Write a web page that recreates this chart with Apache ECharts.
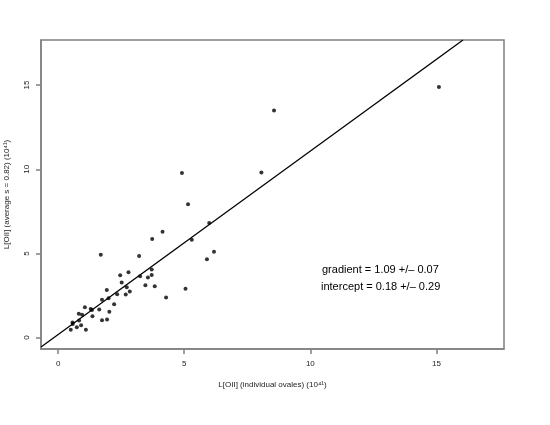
<!DOCTYPE html>
<html>
<head>
<meta charset="utf-8">
<script src="https://cdn.jsdelivr.net/npm/echarts@6/dist/echarts.min.js"></script>
<style>html,body{margin:0;padding:0;background:#fff}#c{width:550px;height:425px}</style>
</head>
<body>
<div id="c"></div>
<script>
// data
var individualL = [4.91,8.06,5.15,5.99,4.14,3.73,5.30,6.18,5.90,1.69,3.21,2.79,2.46,3.71,3.71,3.25,3.56,2.52,3.83,3.46,5.05,4.28,2.72,2.84,2.68,2.34,1.93,2.22,1.74,2.00,1.63,2.03,1.06,1.29,1.34,1.36,0.82,0.95,0.83,1.74,1.94,0.57,0.58,0.91,0.74,0.50,1.10,8.56,15.10];
var averageL    = [9.78,9.80,7.92,6.80,6.29,5.85,5.81,5.10,4.66,4.92,4.84,3.88,3.70,4.04,3.72,3.64,3.57,3.27,3.05,3.11,2.90,2.38,2.99,2.73,2.56,2.57,2.83,1.98,2.24,2.34,1.66,1.53,1.80,1.70,1.64,1.27,1.41,1.35,1.01,1.03,1.07,0.89,0.80,0.73,0.61,0.46,0.46,13.49,14.88];
var xTicks = [0, 5, 10, 15];
var yTicks = [0, 5, 10, 15];
var fitGradient = 1.09, fitIntercept = 0.18;
var axisRange = [-0.68, 17.68];

var pts = individualL.map(function(x, i){ return [x, averageL[i]]; });
var x0 = axisRange[0], x1 = (axisRange[1] - fitIntercept) / fitGradient;
var fitLine = [[x0, fitGradient * x0 + fitIntercept], [x1, fitGradient * x1 + fitIntercept]];

var chart = echarts.init(document.getElementById('c'), null, {renderer: 'canvas'});
var font = 'Liberation Sans, Arial, Helvetica, sans-serif';
var gray = '#808080';
chart.setOption({
  animation: false,
  backgroundColor: '#fff',
  grid: {left: 41, right: 46, top: 40, bottom: 76, containLabel: false, outerBoundsMode: 'none',
         show: true, borderColor: gray, borderWidth: 1.5, backgroundColor: 'transparent'},
  xAxis: {
    type: 'value', min: axisRange[0], max: axisRange[1],
    name: 'L[OII] (individual ovales) (10⁴¹)', nameLocation: 'middle', nameGap: 32,
    nameTextStyle: {fontFamily: font, fontSize: 8, color: '#222'},
    axisLine: {show: true, onZero: false, lineStyle: {color: gray, width: 1.5}}, splitLine: {show: false},
    axisTick: {show: true, inside: false, length: 5, lineStyle: {color: gray, width: 1.5}, customValues: xTicks},
    axisLabel: {customValues: xTicks, margin: 11, fontFamily: font, fontSize: 8, color: '#222'}
  },
  yAxis: {
    type: 'value', min: axisRange[0], max: axisRange[1],
    name: 'L[OII] (average s = 0.82) (10⁴¹)', nameLocation: 'middle', nameGap: 30,
    nameTextStyle: {fontFamily: font, fontSize: 8, color: '#222'},
    axisLine: {show: true, onZero: false, lineStyle: {color: gray, width: 1.5}}, splitLine: {show: false},
    axisTick: {show: true, inside: false, length: 5, lineStyle: {color: gray, width: 1.5}, customValues: yTicks},
    axisLabel: {customValues: yTicks, rotate: 90, margin: 10, fontFamily: font, fontSize: 8, color: '#222'}
  },
  series: [
    {type: 'line', data: fitLine, showSymbol: false, symbol: 'none', clip: true,
     lineStyle: {color: '#000', width: 1.3}},
    {type: 'scatter', data: pts, symbol: 'circle', symbolSize: 4, itemStyle: {color: '#000'}}
  ],
  graphic: [
    {type: 'text', left: 322, top: 264, style: {text: 'gradient = 1.09 +/\u2013 0.07', font: '11px ' + font, fill: '#000'}},
    {type: 'text', left: 321, top: 281, style: {text: 'intercept = 0.18 +/\u2013 0.29', font: '11px ' + font, fill: '#000'}}
  ]
});
</script>
</body>
</html>
